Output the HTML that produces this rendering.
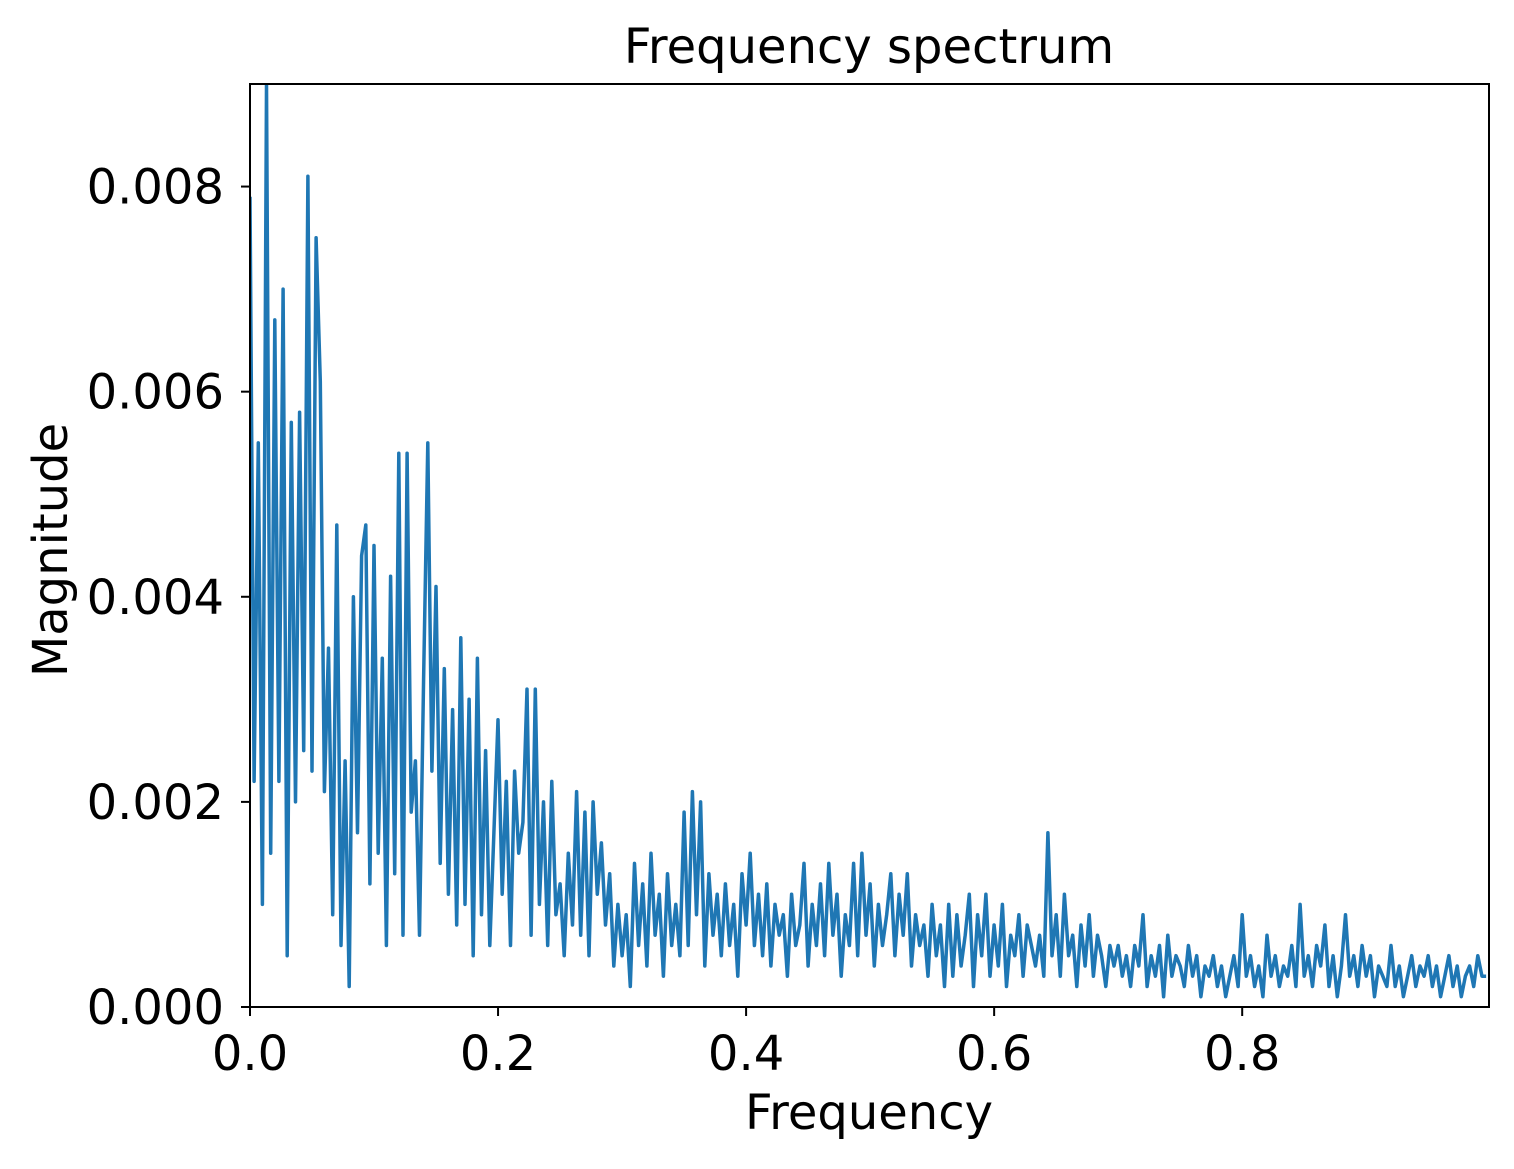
<!DOCTYPE html>
<html><head><meta charset="utf-8"><style>
html,body{margin:0;padding:0;background:#fff;}
svg text{font-family:"DejaVu Sans","Liberation Sans",sans-serif;fill:#000;}
</style></head><body>
<svg id="chart" width="1514" height="1164" xmlns="http://www.w3.org/2000/svg">
<defs><clipPath id="clip"><rect x="250" y="84" width="1239" height="923"/></clipPath></defs>
<text x="869" y="63" font-size="48" text-anchor="middle">Frequency spectrum</text>
<text x="869" y="1129" font-size="48" text-anchor="middle">Frequency</text>
<text transform="translate(67,550) rotate(-90)" font-size="48" text-anchor="middle">Magnitude</text>
<g id="ticks"></g>
<polyline id="line" clip-path="url(#clip)" fill="none" stroke="#1f77b4" stroke-width="3.5" stroke-linejoin="round"/>
<rect x="250" y="84" width="1239" height="923" fill="none" stroke="#000" stroke-width="2"/>
</svg>
<script>
const magnitudes = [79,22,55,10,90,15,67,22,70,5,57,20,58,25,81,
23,75,61,21,35,9,47,6,24,2,40,17,44,47,12,
45,15,34,6,42,13,54,7,54,19,24,7,32,55,23,
41,14,33,11,29,8,36,10,30,5,34,9,25,6,17,
28,11,22,6,23,15,18,31,7,31,10,20,6,22,9,
12,5,15,8,21,7,19,5,20,11,16,8,13,4,10,
5,9,2,14,6,12,4,15,7,11,3,13,6,10,5,
19,6,21,9,20,4,13,7,11,5,12,6,10,3,13,
8,15,6,11,5,12,4,10,7,9,3,11,6,8,14,
4,10,6,12,5,14,7,11,3,9,6,14,5,15,7,
12,4,10,6,9,13,5,11,7,13,4,9,6,8,3,
10,5,8,2,10,3,9,4,7,11,2,9,5,11,3,
8,4,10,2,7,5,9,3,8,6,4,7,3,17,5,
9,3,11,5,7,2,8,4,9,3,7,5,2,6,4,
6,3,5,2,6,4,9,2,5,3,6,1,7,3,5,
4,2,6,3,5,1,4,3,5,2,4,1,3,5,2,
9,3,5,2,4,1,7,3,5,2,4,3,6,2,10,
3,5,2,6,4,8,2,5,1,4,9,3,5,2,6,
3,5,1,4,3,2,6,2,4,1,3,5,2,4,3,
5,2,4,1,3,5,2,4,1,3,4,2,5,3,3];
const magScale = 0.0001;
const freqStep = 1/300;
const xTicks = [0,0.2,0.4,0.6,0.8];
const xTickLabels = ["0.0","0.2","0.4","0.6","0.8"];
const yTicks = [0,0.002,0.004,0.006,0.008];
const yTickLabels = ["0.000","0.002","0.004","0.006","0.008"];

const X0=250, X1=1489, Y0=1007, Y1=84, XMAX=0.999, YMAX=0.009;
function xs(v){return X0+(v/XMAX)*(X1-X0);}
function ys(v){return Y0-(v/YMAX)*(Y0-Y1);}
const NS="http://www.w3.org/2000/svg";
const line=document.getElementById('line');
line.setAttribute('points', magnitudes.map((m,i)=>xs(i*freqStep).toFixed(1)+','+ys(m*magScale).toFixed(1)).join(' '));
const g=document.getElementById('ticks');
xTicks.forEach((t,i)=>{
  const l=document.createElementNS(NS,'line');
  
  
  l.setAttribute('x1',xs(t));l.setAttribute('x2',xs(t));l.setAttribute('y1',Y0);l.setAttribute('y2',Y0+9);
  l.setAttribute('stroke','#000');l.setAttribute('stroke-width','2');g.appendChild(l);
  const tx=document.createElementNS(NS,'text');
  
  
  tx.setAttribute('x',xs(t));tx.setAttribute('y',Y0+63);tx.setAttribute('font-size','48');tx.setAttribute('text-anchor','middle');
  tx.textContent=xTickLabels[i];g.appendChild(tx);
});
yTicks.forEach((t,i)=>{
  const l=document.createElementNS(NS,'line');
  
  
  l.setAttribute('x1',X0-9);l.setAttribute('x2',X0);l.setAttribute('y1',ys(t));l.setAttribute('y2',ys(t));
  l.setAttribute('stroke','#000');l.setAttribute('stroke-width','2');g.appendChild(l);
  const tx=document.createElementNS(NS,'text');
  
  
  tx.setAttribute('x',X0-26);tx.setAttribute('y',ys(t)+17);tx.setAttribute('font-size','48');tx.setAttribute('text-anchor','end');
  tx.textContent=yTickLabels[i];g.appendChild(tx);
});
</script>
</body></html>
